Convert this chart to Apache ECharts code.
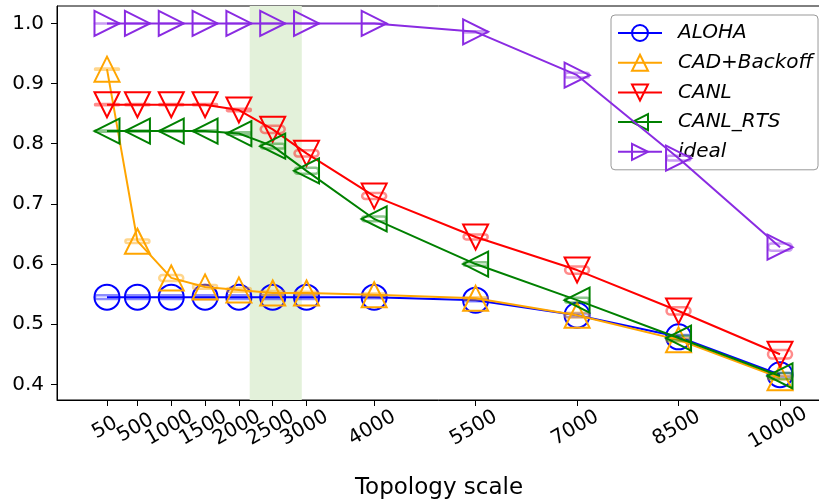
<!DOCTYPE html>
<html><head><meta charset="utf-8">
<script src="https://cdn.jsdelivr.net/npm/echarts@6/dist/echarts.min.js"></script>
<style>html,body{margin:0;padding:0;background:#fff}#c{width:819px;height:503px}</style>
</head><body><div id="c"></div>
<script>
const xTicks = [50,500,1000,1500,2000,2500,3000,4000,5500,7000,8500,10000];
const yTicks = [0.4,0.5,0.6,0.7,0.8,0.9,1.0];
const seriesNames = ['ALOHA','CAD+Backoff','CANL','CANL_RTS','ideal'];
const aloha = [0.545,0.545,0.545,0.545,0.545,0.545,0.545,0.545,0.540,0.515,0.479,0.416];
const cad   = [0.924,0.638,0.577,0.562,0.557,0.552,0.552,0.549,0.543,0.515,0.474,0.411];
const canl  = [0.865,0.865,0.865,0.865,0.856,0.824,0.784,0.713,0.645,0.590,0.522,0.450];
const canlRts = [0.821,0.821,0.821,0.821,0.817,0.796,0.755,0.675,0.600,0.540,0.477,0.414];
const ideal = [1,1,1,1,1,1,1,1,0.986,0.914,0.776,0.628];
const alohaErr = [0.003,0.003,0.003,0.003,0.003,0.003,0.003,0.002,0.002,0.003,0.003,0.003];
const cadErr   = [0.001,0.003,0.005,0.003,0.003,0.003,0.002,0.002,0.002,0.004,0.003,0.003];
const canlErr  = [0.001,0.001,0.001,0.001,0.002,0.006,0.005,0.005,0.004,0.006,0.006,0.007];
const canlRtsErr = [0.001,0.001,0.001,0.001,0.002,0.004,0.005,0.004,0.003,0.004,0.004,0.005];
const idealErr = [0,0,0,0,0,0,0,0,0.001,0.004,0.004,0.006];
const shadeRange = [2160, 2930];

const colors = ['#0000ff','#ffa500','#ff0000','#008000','#8a2be2'];
const symbols = ['circle','path://M5,0L10,10L0,10Z','path://M0,0L10,0L5,10Z','path://M0,5L10,0L10,10Z','path://M0,0L10,5L0,10Z'];
const values = [aloha, cad, canl, canlRts, ideal];
const errs = [alohaErr, cadErr, canlErr, canlRtsErr, idealErr];
const FONT = 'DejaVu Sans';

const series = [{
  type:'line', data:[], z:1, silent:true,
  markArea:{silent:true, itemStyle:{color:'#e3f1da'}, data:[[{xAxis:shadeRange[0]},{xAxis:shadeRange[1]}]]}
}];
values.forEach((v,i)=>{
  series.push({
    name:seriesNames[i], type:'line', z:2+i*2,
    data: xTicks.map((x,j)=>[x,v[j]]),
    symbol: symbols[i], symbolSize: 25, showSymbol:true,
    lineStyle:{color:colors[i], width:2},
    itemStyle:{color:'transparent', borderColor:colors[i], borderWidth:2},
    emphasis:{disabled:true}, animation:false
  });
  series.push({
    name:seriesNames[i]+' err', type:'custom', z:3+i*2, silent:true,
    data: xTicks.map((x,j)=>[x,v[j],errs[i][j]]),
    renderItem:(params, api)=>{
      const x=api.value(0), y=api.value(1), e=api.value(2);
      const t=api.coord([x,y+e]), b=api.coord([x,y-e]);
      const h=Math.max(b[1]-t[1],0.01);
      return {type:'rect', shape:{x:t[0]-12, y:t[1], width:24, height:h, r:h/2},
        style:{fill:'none', stroke:colors[i], lineWidth:2.5, opacity:0.45}};
    }, animation:false
  });
});

const chart = echarts.init(document.getElementById('c'), null, {renderer:'canvas'});
chart.setOption({
  animation:false,
  backgroundColor:'#fff',
  grid:{left:57, right:-2, top:6, bottom:103, show:true, borderColor:'#000', borderWidth:1,
    backgroundColor:'transparent', containLabel:false, outerBoundsMode:'none'},
  xAxis:{
    type:'value', min:-689, max:10606,
    name:'Topology scale', nameLocation:'middle', nameGap:77,
    nameTextStyle:{fontFamily:FONT, fontSize:23, color:'#000'},
    axisLine:{show:true, onZero:false, lineStyle:{color:'#000', width:1}},
    axisTick:{show:true, customValues:xTicks, length:6, lineStyle:{color:'#000'}},
    axisLabel:{show:false},
    splitLine:{show:false}
  },
  yAxis:{
    type:'value', min:0.374, max:1.029,
    axisLine:{show:true, onZero:false, lineStyle:{color:'#000', width:1}},
    axisTick:{show:true, customValues:yTicks, length:6, lineStyle:{color:'#000'}},
    axisLabel:{customValues:yTicks, formatter:v=>v.toFixed(1), margin:13,
      fontFamily:FONT, fontSize:20, color:'#000'},
    splitLine:{show:false}
  },
  legend:{
    orient:'vertical', left:611, top:15, padding:[8,5,8,6],
    itemWidth:44, itemHeight:20, itemGap:9.7,
    backgroundColor:'rgba(255,255,255,0.85)', borderColor:'#999', borderWidth:1, borderRadius:4,
    textStyle:{fontFamily:FONT, fontStyle:'italic', fontSize:20, lineHeight:20, color:'#000', padding:[0,0,0,11]},
    data:seriesNames
  },
  series: series
});

// x tick labels placed through the axis scale (rotated 30°, centred under each tick)
const axisY = chart.convertToPixel({yAxisIndex:0}, 0.374);
chart.setOption({
  graphic: xTicks.map(v=>({
    type:'text', silent:true, z:10,
    x: chart.convertToPixel({xAxisIndex:0}, v) - 2,
    y: axisY + 28,
    rotation: Math.PI/6,
    style:{text:String(v), font:'20px "DejaVu Sans"', fill:'#000', align:'center', verticalAlign:'middle'}
  }))
});
</script></body></html>
